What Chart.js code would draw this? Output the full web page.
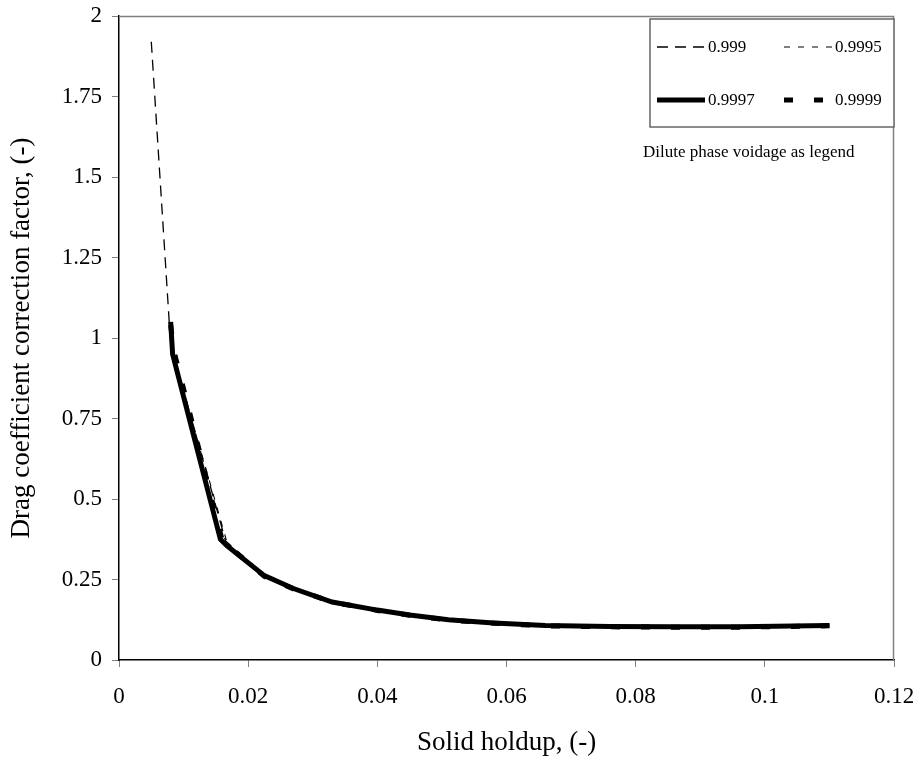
<!DOCTYPE html>
<html>
<head>
<meta charset="utf-8">
<script src="https://cdn.jsdelivr.net/npm/chart.js@4.4.1/dist/chart.umd.min.js"></script>
<style>
  html, body { margin: 0; padding: 0; background: #fff; }
  #wrap { width: 920px; height: 764px; position: relative; }
</style>
</head>
<body>
<div id="wrap"><canvas id="my-chart" width="920" height="764"></canvas></div>
<script>
let labels = ["0.999", "0.9995", "0.9997", "0.9999"];

let x999 = [0.005, 0.008, 0.0165, 0.0225, 0.027, 0.033, 0.04, 0.045, 0.051, 0.058, 0.066, 0.076, 0.086, 0.096, 0.11];
let y999 = [1.92, 0.98, 0.37, 0.262, 0.222, 0.18, 0.155, 0.14, 0.125, 0.115, 0.107, 0.104, 0.103, 0.103, 0.107];

let x9995 = [0.008, 0.0088, 0.0168, 0.0225, 0.027, 0.033, 0.04, 0.045, 0.051, 0.058, 0.066, 0.076, 0.086, 0.096, 0.11];
let y9995 = [1.02, 0.92, 0.36, 0.26, 0.22, 0.18, 0.153, 0.139, 0.124, 0.114, 0.106, 0.103, 0.102, 0.102, 0.107];

let x9997 = [0.008, 0.0083, 0.0157, 0.0167, 0.0225, 0.027, 0.033, 0.04, 0.045, 0.051, 0.058, 0.066, 0.076, 0.086, 0.096, 0.11];
let y9997 = [1.05, 0.95, 0.375, 0.355, 0.262, 0.222, 0.18, 0.155, 0.14, 0.125, 0.115, 0.107, 0.104, 0.103, 0.103, 0.107];

let x9999 = [0.008, 0.0085, 0.016, 0.0225, 0.027, 0.033, 0.04, 0.045, 0.051, 0.058, 0.066, 0.076, 0.086, 0.096, 0.11];
let y9999 = [1.04, 0.96, 0.37, 0.26, 0.221, 0.18, 0.154, 0.139, 0.124, 0.114, 0.106, 0.103, 0.102, 0.102, 0.106];

let xTicks = [0, 0.02, 0.04, 0.06, 0.08, 0.1, 0.12];
let yTicks = [0, 0.25, 0.5, 0.75, 1, 1.25, 1.5, 1.75, 2];

const serif = "'Liberation Serif', 'Times New Roman', serif";

function pts(xs, ys) {
    return xs.map((x, i) => ({ x: x, y: ys[i] }));
}

// top/right frame in gray
const framePlugin = {
    id: 'frame',
    afterDraw(chart) {
        let c = chart.ctx, a = chart.chartArea;
        c.save();
        c.strokeStyle = '#808080';
        c.lineWidth = 1.5;
        c.beginPath();
        c.moveTo(a.left, a.top + 0.5);
        c.lineTo(a.right - 0.5, a.top + 0.5);
        c.lineTo(a.right - 0.5, a.bottom);
        c.stroke();
        c.restore();
    }
};

// boxed two-column legend + note below
const boxLegend = {
    id: 'boxLegend',
    afterDraw(chart) {
        let c = chart.ctx, a = chart.chartArea;
        let bx = 650, by = 19, bw = a.right - bx, bh = 108;
        c.save();
        c.fillStyle = '#fff';
        c.fillRect(bx, by, bw, bh);
        c.strokeStyle = '#666';
        c.lineWidth = 1.5;
        c.strokeRect(bx, by, bw, bh);
        c.font = '17px ' + serif;
        c.textBaseline = 'middle';
        chart.data.datasets.forEach((ds, i) => {
            let col = i % 2, row = Math.floor(i / 2);
            let lx = 657 + col * 127;
            let ly = by + 28 + row * 53;
            c.strokeStyle = ds.borderColor;
            c.lineWidth = ds.borderWidth;
            c.setLineDash(ds.borderDash || []);
            c.beginPath();
            c.moveTo(lx, ly);
            c.lineTo(lx + 48, ly);
            c.stroke();
            c.setLineDash([]);
            c.fillStyle = '#000';
            c.fillText(ds.label, lx + 51, ly + 1);
        });
        c.fillText('Dilute phase voidage as legend', 643, 153);
        c.restore();
    }
};

let ctx = document.getElementById('my-chart').getContext('2d');

let chart = new Chart(ctx, {
    type: 'line',
    data: {
        datasets: [{
            label: labels[0],
            data: pts(x999, y999),
            borderColor: '#000',
            borderWidth: 1.3,
            borderDash: [11, 7]
        }, {
            label: labels[1],
            data: pts(x9995, y9995),
            borderColor: '#000',
            borderWidth: 1.1,
            borderDash: [6, 8]
        }, {
            label: labels[2],
            data: pts(x9997, y9997),
            borderColor: '#000',
            borderWidth: 5
        }, {
            label: labels[3],
            data: pts(x9999, y9999),
            borderColor: '#000',
            borderWidth: 5,
            borderDash: [9, 21]
        }]
    },
    options: {
        responsive: false,
        animation: false,
        layout: { padding: { top: 16, right: 26, left: 0, bottom: 0 } },
        elements: { point: { radius: 0 }, line: { tension: 0 } },
        plugins: {
            legend: { display: false },
            tooltip: { enabled: false }
        },
        scales: {
            x: {
                type: 'linear',
                min: 0,
                max: 0.12,
                afterBuildTicks: s => { s.ticks = xTicks.map(v => ({ value: v })); },
                afterFit: s => { s.height = 104; s.paddingLeft = 0; s.paddingRight = 0; },
                grid: { drawOnChartArea: false, tickLength: 7, color: '#808080' },
                border: { color: '#000', width: 1.5 },
                ticks: {
                    color: '#000',
                    padding: 16,
                    maxRotation: 0,
                    font: { family: serif, size: 23 },
                    callback: v => String(v)
                },
                title: {
                    display: true,
                    text: 'Solid holdup, (-)',
                    color: '#000',
                    padding: { top: 0, bottom: 5 },
                    font: { family: serif, size: 27 }
                }
            },
            y: {
                min: 0,
                max: 2,
                afterBuildTicks: s => { s.ticks = yTicks.map(v => ({ value: v })); },
                afterFit: s => { s.width = 119; s.paddingTop = 0; s.paddingBottom = 0; },
                grid: { drawOnChartArea: false, tickLength: 7, color: '#808080' },
                border: { color: '#000', width: 1.5 },
                ticks: {
                    color: '#000',
                    padding: 10,
                    font: { family: serif, size: 23 },
                    callback: v => String(v)
                },
                title: {
                    display: true,
                    text: 'Drag coefficient correction factor, (-)',
                    color: '#000',
                    padding: { top: 6, bottom: 0 },
                    font: { family: serif, size: 27 }
                }
            }
        }
    },
    plugins: [framePlugin, boxLegend]
});
</script>
</body>
</html>
